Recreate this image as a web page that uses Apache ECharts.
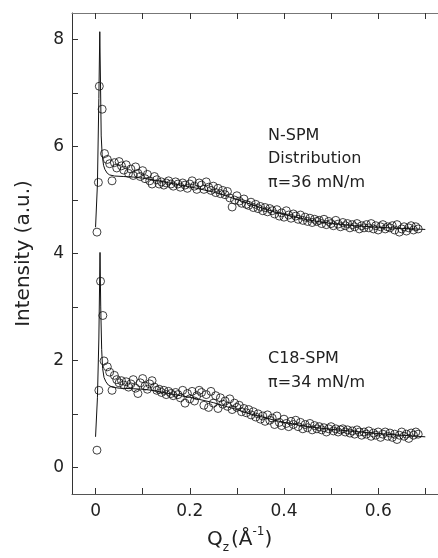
<!DOCTYPE html>
<html>
<head>
<meta charset="utf-8">
<script src="https://cdn.jsdelivr.net/npm/echarts@6/dist/echarts.min.js"></script>
<style>html,body{margin:0;padding:0;background:#fff;}#c{width:438px;height:558px;}</style>
</head>
<body>
<div id="c"></div>
<script>
// ---- data ----
var xTicks = [0, 0.1, 0.2, 0.3, 0.4, 0.5, 0.6, 0.7];
var xLabels = [0, 0.2, 0.4, 0.6];
var yTicks = [0, 1, 2, 3, 4, 5, 6, 7, 8];
var yLabels = [0, 2, 4, 6, 8];

var qzLowTop = [0.003, 0.006, 0.008, 0.014, 0.019];
var topLow = [4.40, 5.33, 7.13, 6.70, 5.87];
var qzLowBottom = [0.003, 0.007, 0.0106, 0.0155, 0.018];
var bottomLow = [0.32, 1.44, 3.48, 2.84, 1.99];

var qz = [
0.025,0.030,0.035,0.040,0.045,0.050,0.055,0.060,0.065,0.070,
0.075,0.080,0.085,0.090,0.095,0.100,0.105,0.110,0.115,0.120,
0.125,0.130,0.135,0.140,0.145,0.150,0.155,0.160,0.165,0.170,
0.175,0.180,0.185,0.190,0.195,0.200,0.205,0.210,0.215,0.220,
0.225,0.230,0.235,0.240,0.245,0.250,0.255,0.260,0.265,0.270,
0.275,0.280,0.285,0.290,0.295,0.300,0.305,0.310,0.315,0.320,
0.325,0.330,0.335,0.340,0.345,0.350,0.355,0.360,0.365,0.370,
0.375,0.380,0.385,0.390,0.395,0.400,0.405,0.410,0.415,0.420,
0.425,0.430,0.435,0.440,0.445,0.450,0.455,0.460,0.465,0.470,
0.475,0.480,0.485,0.490,0.495,0.500,0.505,0.510,0.515,0.520,
0.525,0.530,0.535,0.540,0.545,0.550,0.555,0.560,0.565,0.570,
0.575,0.580,0.585,0.590,0.595,0.600,0.605,0.610,0.615,0.620,
0.625,0.630,0.635,0.640,0.645,0.650,0.655,0.660,0.665,0.670,
0.675,0.680,0.685];

var nspm = [
5.76,5.68,5.36,5.70,5.60,5.72,5.64,5.56,5.66,5.50,
5.58,5.46,5.62,5.50,5.44,5.55,5.40,5.48,5.36,5.30,
5.44,5.38,5.30,5.34,5.28,5.32,5.36,5.30,5.26,5.34,
5.30,5.24,5.32,5.28,5.22,5.30,5.36,5.26,5.20,5.32,
5.28,5.20,5.34,5.24,5.18,5.26,5.14,5.22,5.12,5.18,
5.10,5.16,5.04,4.87,5.00,5.08,4.98,4.94,5.02,4.92,
4.90,4.96,4.86,4.92,4.84,4.88,4.80,4.86,4.78,4.84,
4.80,4.74,4.82,4.70,4.76,4.68,4.80,4.72,4.66,4.74,
4.70,4.64,4.72,4.62,4.68,4.60,4.66,4.58,4.64,4.60,
4.62,4.56,4.64,4.54,4.60,4.56,4.52,4.62,4.55,4.50,
4.58,4.52,4.56,4.48,4.54,4.50,4.56,4.46,4.52,4.48,
4.54,4.48,4.56,4.46,4.52,4.44,4.50,4.54,4.46,4.50,
4.48,4.52,4.44,4.54,4.40,4.46,4.50,4.42,4.48,4.52,
4.44,4.50,4.46];

var c18 = [
1.88,1.78,1.44,1.72,1.64,1.58,1.62,1.54,1.60,1.50,
1.56,1.64,1.48,1.38,1.58,1.66,1.52,1.46,1.56,1.62,
1.50,1.44,1.46,1.40,1.44,1.36,1.42,1.38,1.34,1.40,
1.36,1.30,1.44,1.20,1.38,1.28,1.42,1.24,1.34,1.44,
1.40,1.16,1.36,1.12,1.42,1.20,1.34,1.10,1.30,1.18,
1.24,1.14,1.28,1.08,1.20,1.12,1.16,1.04,1.10,1.02,
1.08,0.98,1.04,0.94,1.00,0.90,0.96,0.86,0.98,0.88,
0.92,0.80,0.96,0.84,0.78,0.90,0.82,0.76,0.86,0.80,
0.88,0.76,0.84,0.72,0.80,0.74,0.82,0.70,0.78,0.72,
0.76,0.70,0.74,0.66,0.72,0.76,0.68,0.72,0.66,0.70,
0.72,0.66,0.70,0.64,0.68,0.62,0.70,0.66,0.60,0.66,
0.62,0.68,0.58,0.64,0.60,0.66,0.56,0.62,0.66,0.58,
0.64,0.56,0.62,0.52,0.60,0.66,0.58,0.62,0.54,0.64,
0.60,0.66,0.62];

var topFitQz = [0,0.004,0.007,0.009,0.0105,0.012,0.014,0.017,0.02,0.025,0.03,0.04,0.06,0.08,0.1,0.12,0.15,0.18,0.2,0.22,0.25,0.28,0.3,0.32,0.35,0.38,0.4,0.42,0.45,0.5,0.55,0.6,0.65,0.7];
var topFit = [4.49,5.3,6.9,8.15,7.2,6.2,5.85,5.65,5.57,5.5,5.47,5.45,5.44,5.43,5.41,5.38,5.33,5.28,5.25,5.21,5.15,5.07,5.01,4.95,4.86,4.78,4.73,4.69,4.63,4.56,4.52,4.49,4.47,4.45];
var bottomFitQz = [0,0.004,0.007,0.0095,0.011,0.013,0.015,0.018,0.022,0.027,0.035,0.05,0.08,0.1,0.12,0.15,0.18,0.2,0.22,0.25,0.28,0.3,0.32,0.35,0.38,0.4,0.42,0.45,0.5,0.55,0.6,0.65,0.7];
var bottomFit = [0.57,1.3,2.4,4.02,3.0,2.2,1.85,1.68,1.6,1.54,1.5,1.48,1.47,1.46,1.44,1.39,1.34,1.31,1.27,1.21,1.13,1.08,1.02,0.95,0.88,0.84,0.81,0.76,0.71,0.67,0.63,0.6,0.57];

// ---- build ----
function pairs(xs, ys) { return xs.map(function (x, i) { return [x, ys[i]]; }); }
var topPts = pairs(qzLowTop, topLow).concat(pairs(qz, nspm));
var botPts = pairs(qzLowBottom, bottomLow).concat(pairs(qz, c18));

var FONT = 'DejaVu Sans';
var INK = '#222';
var AX = '#333';

var chart = echarts.init(document.getElementById('c'));
var scatterStyle = { color: 'rgba(255,255,255,0)', borderColor: '#111', borderWidth: 1 };
chart.setOption({
  animation: false,
  backgroundColor: '#fff',
  grid: { left: 72, right: 0, top: 13, bottom: 64, containLabel: false, outerBoundsMode: 'none' },
  xAxis: [{
    type: 'value', min: -0.05, max: 0.727, position: 'bottom',
    axisLine: { show: true, onZero: false, lineStyle: { color: '#555', width: 1 } },
    axisTick: { show: true, inside: true, length: 6, customValues: xTicks, lineStyle: { color: AX } },
    axisLabel: { customValues: xLabels, fontFamily: FONT, fontSize: 17, color: INK, margin: 9,
      formatter: function (v) { return v === 0 ? '0' : String(v); } },
    splitLine: { show: false }
  }, {
    type: 'value', min: -0.05, max: 0.727, position: 'top',
    axisLine: { show: true, onZero: false, lineStyle: { color: '#777', width: 1 } },
    axisTick: { show: true, inside: true, length: 6, customValues: xTicks, lineStyle: { color: AX } },
    axisLabel: { show: false },
    splitLine: { show: false }
  }],
  yAxis: [{
    type: 'value', min: -0.5, max: 8.5,
    name: 'Intensity (a.u.)', nameLocation: 'middle', nameGap: 38,
    nameTextStyle: { fontFamily: FONT, fontSize: 20, color: INK },
    axisLine: { show: true, onZero: false, lineStyle: { color: AX, width: 1 } },
    axisTick: { show: true, inside: true, length: 6, customValues: yTicks, lineStyle: { color: AX } },
    axisLabel: { customValues: yLabels, fontFamily: FONT, fontSize: 17, color: INK, margin: 8 },
    splitLine: { show: false }
  }],
  graphic: [{
    type: 'text', left: 268, top: 124,
    style: { text: 'N-SPM\nDistribution\nπ=36 mN/m', font: '16px "DejaVu Sans"', fill: INK, lineHeight: 23.5 }
  }, {
    type: 'text', left: 268, top: 347,
    style: { text: 'C18-SPM\nπ=34 mN/m', font: '16px "DejaVu Sans"', fill: INK, lineHeight: 24 }
  }, {
    type: 'text', left: 207, top: 526,
    style: {
      text: '{m|Q}{s|z}{m|(Å}{p|-1}{m|)}',
      fill: INK,
      rich: {
        m: { fontFamily: FONT, fontSize: 20, color: INK, lineHeight: 28, verticalAlign: 'middle' },
        s: { fontFamily: FONT, fontSize: 12, color: INK, lineHeight: 28, verticalAlign: 'bottom', padding: [0, 2, 0, 0] },
        p: { fontFamily: FONT, fontSize: 12, color: INK, lineHeight: 28, verticalAlign: 'top' }
      }
    }
  }],
  series: [
    { type: 'scatter', data: topPts, symbol: 'circle', symbolSize: 8, itemStyle: scatterStyle, z: 2 },
    { type: 'scatter', data: botPts, symbol: 'circle', symbolSize: 8, itemStyle: scatterStyle, z: 2 },
    { type: 'line', data: pairs(topFitQz, topFit), showSymbol: false, symbol: 'none', lineStyle: { color: '#111', width: 1 }, z: 3 },
    { type: 'line', data: pairs(bottomFitQz, bottomFit), showSymbol: false, symbol: 'none', lineStyle: { color: '#111', width: 1 }, z: 3 }
  ]
});
</script>
</body>
</html>
